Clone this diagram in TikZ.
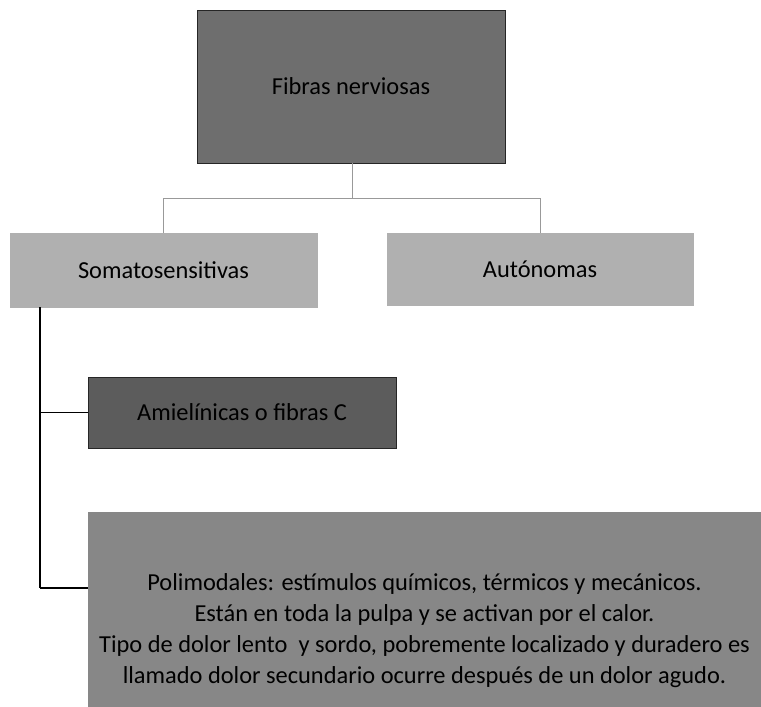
\documentclass[tikz,border=0pt]{standalone}
\usepackage{fontspec}
\setmainfont{Carlito}
\definecolor{topgray}{HTML}{6E6E6E}
\definecolor{midgray}{HTML}{B0B0B0}
\definecolor{darkgray}{HTML}{5C5C5C}
\definecolor{lowgray}{HTML}{878787}
\begin{document}
\begin{tikzpicture}[x=0.75pt,y=-0.75pt,
		box/.style={draw=black!85, line width=0.6pt, inner sep=0pt, font=\fontsize{18.3}{22}\selectfont},
		link/.style={draw=black!40, line width=0.5pt},
		spinelink/.style={draw=black, line width=0.8pt}]
		\clip (0,0) rectangle (761,707);
		\node[box, fill=topgray, minimum width=231pt, minimum height=114.75pt] (fibras) at (351,86.5) {Fibras nerviosas};
		\node[box, draw=midgray, fill=midgray, minimum width=230.25pt, minimum height=55.5pt] (soma) at (163.5,270) {Somatosensitivas};
		\node[box, draw=midgray, fill=midgray, minimum width=229.5pt, minimum height=54pt] (auto) at (540,269) {Autónomas};
		\node[box, fill=darkgray, minimum width=231pt, minimum height=53.25pt] (amiel) at (242,412.5) {Amielínicas o fibras C};
		\node[box, draw=lowgray, fill=lowgray, minimum width=504.75pt, minimum height=178.5pt, align=center,
			font=\fontsize{18.3}{23.3}\selectfont] (polimod) at (424.5,631)
			{Polimodales: estímulos químicos, térmicos y mecánicos.\\
			Están en toda la pulpa y se activan por el calor.\\
			Tipo de dolor lento \ y sordo, pobremente localizado y duradero es\\
			llamado dolor secundario ocurre después de un dolor agudo.};
		\coordinate (split) at (352,198);
		\coordinate (spine) at (40,588);
		\draw[link] (fibras.south -| split) -- (split);
		\draw[link] (split) -| (soma.north);
		\draw[link] (split) -| (auto.north);
		\draw[spinelink] (soma.south -| spine) -- (spine);
		\draw[spinelink] (spine |- amiel.west) -- (amiel.west);
		\draw[spinelink] (spine) -- (spine -| polimod.west);
	\end{tikzpicture}
\end{document}
